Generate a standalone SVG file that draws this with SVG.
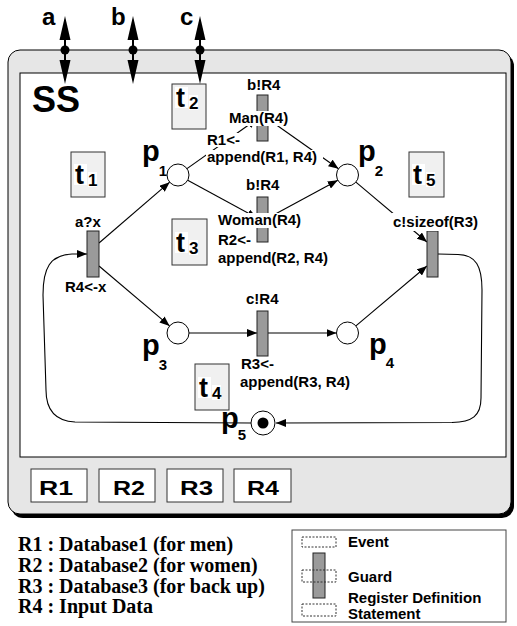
<svg xmlns="http://www.w3.org/2000/svg" width="517" height="626" viewBox="0 0 517 626">
<defs>
<style>
.sans{font-family:"Liberation Sans",Arial,sans-serif;font-weight:bold;fill:#000}
.lbl{font-size:15px}
.tl{font-size:27px}
.ts{font-size:17px}
.pl{font-size:29px}
.ps{font-size:15px}
.bar{fill:#9a9a9a;stroke:#222;stroke-width:1}
.tbox{fill:#f0f0f0;stroke:#333;stroke-width:1}
.place{fill:#fff;stroke:#000;stroke-width:1}
.arc{fill:none;stroke:#000;stroke-width:1.1}
.bg{fill:#fff}
.reg{fill:#fff;stroke:#333;stroke-width:1}
.dot{fill:none;stroke:#333;stroke-width:1;stroke-dasharray:2,1.5}
.serif{font-family:"Liberation Serif","Times New Roman",serif;font-weight:bold;font-size:20px}
</style>
<marker id="ah" markerUnits="userSpaceOnUse" markerWidth="10" markerHeight="8" refX="10" refY="4" orient="auto">
<path d="M0,0 L10,4 L0,8 z" fill="#000"/>
</marker>
</defs>

<g id="frame">
<rect x="11" y="54" width="503" height="464" rx="12" fill="#000"/>
<rect x="8" y="50" width="503" height="464" rx="12" fill="#e6e6e6" stroke="#000" stroke-width="1"/>
<rect x="20" y="73" width="486" height="384" fill="#fff" stroke="#000" stroke-width="1"/>
<text class="sans" x="32" y="112" font-size="36">SS</text>
</g>

<g id="ports">
<g id="port-a">
<text class="sans" x="42" y="25" font-size="24">a</text>
<line x1="65" y1="20" x2="65" y2="80" stroke="#000" stroke-width="2"/>
<polygon points="65,16 59.5,40 70.5,40"/>
<polygon points="65,84 59.5,60 70.5,60"/>
<circle cx="65" cy="50" r="4.5"/>
</g>
<g id="port-b">
<text class="sans" x="111" y="25" font-size="24">b</text>
<line x1="133" y1="20" x2="133" y2="80" stroke="#000" stroke-width="2"/>
<polygon points="133,16 127.5,40 138.5,40"/>
<polygon points="133,84 127.5,60 138.5,60"/>
<circle cx="133" cy="50" r="4.5"/>
</g>
<g id="port-c">
<text class="sans" x="180" y="25" font-size="24">c</text>
<line x1="200" y1="20" x2="200" y2="80" stroke="#000" stroke-width="2"/>
<polygon points="200,16 194.5,40 205.5,40"/>
<polygon points="200,84 194.5,60 205.5,60"/>
<circle cx="200" cy="50" r="4.5"/>
</g>
</g>

<g id="connectors">
<line class="arc" x1="99" y1="243" x2="169.7" y2="182.2" marker-end="url(#ah)"/>
<line class="arc" x1="99" y1="266" x2="169.6" y2="325.9" marker-end="url(#ah)"/>
<line class="arc" x1="187" y1="168.6" x2="257" y2="119" marker-end="url(#ah)"/>
<line class="arc" x1="268" y1="119" x2="338.5" y2="168.7" marker-end="url(#ah)"/>
<line class="arc" x1="187.7" y1="180.3" x2="257" y2="218" marker-end="url(#ah)"/>
<line class="arc" x1="268" y1="218" x2="337.8" y2="180.2" marker-end="url(#ah)"/>
<line class="arc" x1="189" y1="333" x2="257" y2="333" marker-end="url(#ah)"/>
<line class="arc" x1="268" y1="333" x2="336.5" y2="333" marker-end="url(#ah)"/>
<line class="arc" x1="355.9" y1="182.1" x2="427" y2="242" marker-end="url(#ah)"/>
<line class="arc" x1="355.9" y1="325.9" x2="427" y2="266" marker-end="url(#ah)"/>
<path class="arc" d="M438,254 L458,254.5 C476,255 482,266 482,290 L481,398 C481,416 472,422 452,422.5 L276,423" marker-end="url(#ah)"/>
<path class="arc" d="M251,423 L75,422 C55,421 46,410 46,390 L43,295 C43,268 50,255 72,254 L87,254" marker-end="url(#ah)"/>
</g>

<g id="t1">
<rect class="tbox" x="71" y="152" width="34" height="45"/>
<rect class="bg" x="74" y="164" width="13" height="21"/>
<rect class="bg" x="88" y="172" width="9" height="15"/>
<text class="sans tl" x="75" y="184">t<tspan class="ts" dx="4" dy="2">1</tspan></text>
</g>
<g id="t2">
<rect class="tbox" x="172" y="84" width="34" height="45"/>
<rect class="bg" x="175" y="87" width="13" height="21"/>
<rect class="bg" x="189" y="95" width="9" height="15"/>
<text class="sans tl" x="176" y="107">t<tspan class="ts" dx="4" dy="2">2</tspan></text>
</g>
<g id="t3">
<rect class="tbox" x="172" y="219" width="35" height="46"/>
<rect class="bg" x="175" y="232" width="13" height="21"/>
<rect class="bg" x="189" y="240" width="9" height="15"/>
<text class="sans tl" x="176" y="252">t<tspan class="ts" dx="4" dy="2">3</tspan></text>
</g>
<g id="t4">
<rect class="tbox" x="195" y="364" width="34" height="46"/>
<rect class="bg" x="198" y="377" width="13" height="21"/>
<rect class="bg" x="212" y="385" width="9" height="15"/>
<text class="sans tl" x="199" y="397">t<tspan class="ts" dx="4" dy="2">4</tspan></text>
</g>
<g id="t5">
<rect class="tbox" x="409" y="152" width="35" height="45"/>
<rect class="bg" x="412" y="164" width="13" height="21"/>
<rect class="bg" x="426" y="172" width="9" height="15"/>
<text class="sans tl" x="413" y="184">t<tspan class="ts" dx="4" dy="2">5</tspan></text>
</g>

<g id="p1">
<circle class="place" cx="178" cy="175" r="11"/>
<text class="sans pl" x="142" y="161">p<tspan class="ps" dx="-1" dy="15">1</tspan></text>
</g>
<g id="p2">
<circle class="place" cx="347.5" cy="175" r="11"/>
<text class="sans pl" x="358" y="161">p<tspan class="ps" dx="-1" dy="15">2</tspan></text>
</g>
<g id="p3">
<circle class="place" cx="178" cy="333" r="11"/>
<text class="sans pl" x="142" y="355">p<tspan class="ps" dx="-1" dy="15">3</tspan></text>
</g>
<g id="p4">
<circle class="place" cx="347.5" cy="333" r="11"/>
<text class="sans pl" x="369" y="354">p<tspan class="ps" dx="-1" dy="14">4</tspan></text>
</g>
<g id="p5">
<circle class="place" cx="263" cy="423" r="12"/>
<circle cx="263" cy="423" r="5.5" fill="#000"/>
<text class="sans pl" x="221" y="428">p<tspan class="ps" dx="-1" dy="12">5</tspan></text>
</g>

<g id="tr-ax">
<rect class="bar" x="87" y="231" width="12" height="46"/>
<text class="sans lbl" x="75" y="227">a?x</text>
<text class="sans lbl" x="65" y="292">R4&lt;-x</text>
</g>
<g id="tr-man">
<rect class="bar" x="257" y="95" width="11" height="46"/>
<text class="sans lbl" x="247" y="90">b!R4</text>
<rect class="bg" x="228" y="111" width="64" height="15"/>
<rect class="bg" x="206" y="133" width="35" height="14"/>
<rect class="bg" x="206" y="150" width="117" height="16"/>
<text class="sans lbl" x="229" y="123">Man(R4)</text>
<text class="sans lbl" x="207" y="145">R1&lt;-</text>
<text class="sans lbl" x="207" y="162">append(R1, R4)</text>
</g>
<g id="tr-woman">
<rect class="bar" x="257" y="197" width="11" height="45"/>
<text class="sans lbl" x="246" y="190">b!R4</text>
<rect class="bg" x="217" y="213" width="89" height="15"/>
<text class="sans lbl" x="218" y="225">Woman(R4)</text>
<text class="sans lbl" x="218" y="245">R2&lt;-</text>
<text class="sans lbl" x="218" y="263">append(R2, R4)</text>
</g>
<g id="tr-backup">
<rect class="bar" x="257" y="311" width="11" height="45"/>
<text class="sans lbl" x="246" y="304">c!R4</text>
<text class="sans lbl" x="241" y="369">R3&lt;-</text>
<text class="sans lbl" x="240" y="387">append(R3, R4)</text>
</g>
<g id="tr-sizeof">
<rect class="bar" x="427" y="231" width="11" height="46"/>
<rect class="bg" x="392" y="213" width="92" height="18"/>
<text class="sans lbl" x="393" y="227">c!sizeof(R3)</text>
</g>

<g id="registers">
<rect class="reg" x="31" y="469" width="56" height="33"/>
<rect class="reg" x="99" y="469" width="56" height="33"/>
<rect class="reg" x="167" y="469" width="56" height="33"/>
<rect class="reg" x="234" y="469" width="57" height="33"/>
<text class="sans" x="39" y="495" font-size="20" textLength="34" lengthAdjust="spacingAndGlyphs">R1</text>
<text class="sans" x="113" y="495" font-size="20" textLength="32" lengthAdjust="spacingAndGlyphs">R2</text>
<text class="sans" x="180" y="495" font-size="20" textLength="33" lengthAdjust="spacingAndGlyphs">R3</text>
<text class="sans" x="247" y="495" font-size="20" textLength="32" lengthAdjust="spacingAndGlyphs">R4</text>
</g>

<g id="register-notes">
<text class="serif" x="18" y="551">R1 : Database1 (for men)</text>
<text class="serif" x="18" y="572">R2 : Database2 (for women)</text>
<text class="serif" x="18" y="593">R3 : Database3 (for back up)</text>
<text class="serif" x="18" y="613">R4 : Input Data</text>
</g>

<g id="legend">
<rect x="292" y="530" width="214" height="92" fill="#fff" stroke="#444" stroke-width="1"/>
<rect class="bar" x="313" y="553" width="12" height="45"/>
<rect class="dot" x="302" y="537" width="34" height="10"/>
<rect class="dot" x="302" y="570" width="34" height="12"/>
<rect class="dot" x="302" y="604" width="34" height="12"/>
<text class="sans" x="348" y="547" font-size="15">Event</text>
<text class="sans" x="348" y="582" font-size="15">Guard</text>
<text class="sans" x="348" y="603" font-size="15">Register Definition</text>
<text class="sans" x="348" y="619" font-size="15">Statement</text>
</g>
</svg>
